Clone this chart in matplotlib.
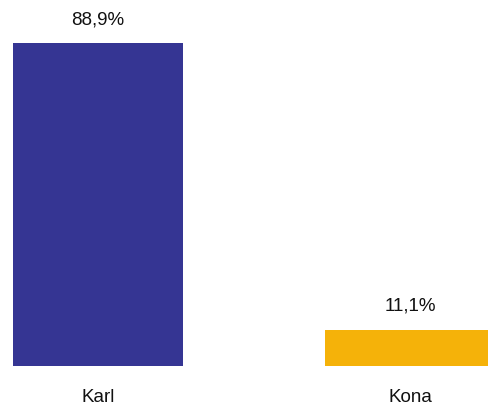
import matplotlib
matplotlib.use("Agg")
import matplotlib.pyplot as plt

categories = ["Karl", "Kona"]
values = [88.9, 11.1]
labels = ["88,9%", "11,1%"]
colors = ["#353593", "#f5b209"]

plt.rcParams['font.family'] = ['Liberation Sans', 'DejaVu Sans']

fig = plt.figure(figsize=(4.89, 4.08), dpi=100)
ax = fig.add_axes([0, 0.103, 1, 0.897])
x = list(range(len(categories)))
bars = ax.bar(x, values, width=0.545, color=colors)
for xi, v, lab in zip(x, values, labels):
    ax.annotate(lab, (xi, v), xytext=(0, 17), textcoords="offset points",
                ha="center", va="center", fontsize=13.5, color="#111111")
ax.set_xlim(-0.313, 1.253)
ax.set_ylim(1.33, 100.6)
ax.set_xticks(x)
ax.set_xticklabels(categories, fontsize=13.5, color="#111111")
ax.tick_params(axis='x', length=0, pad=16.5)
ax.set_yticks([])
for s in ax.spines.values():
    s.set_visible(False)
fig.savefig("out.png", dpi=100)
